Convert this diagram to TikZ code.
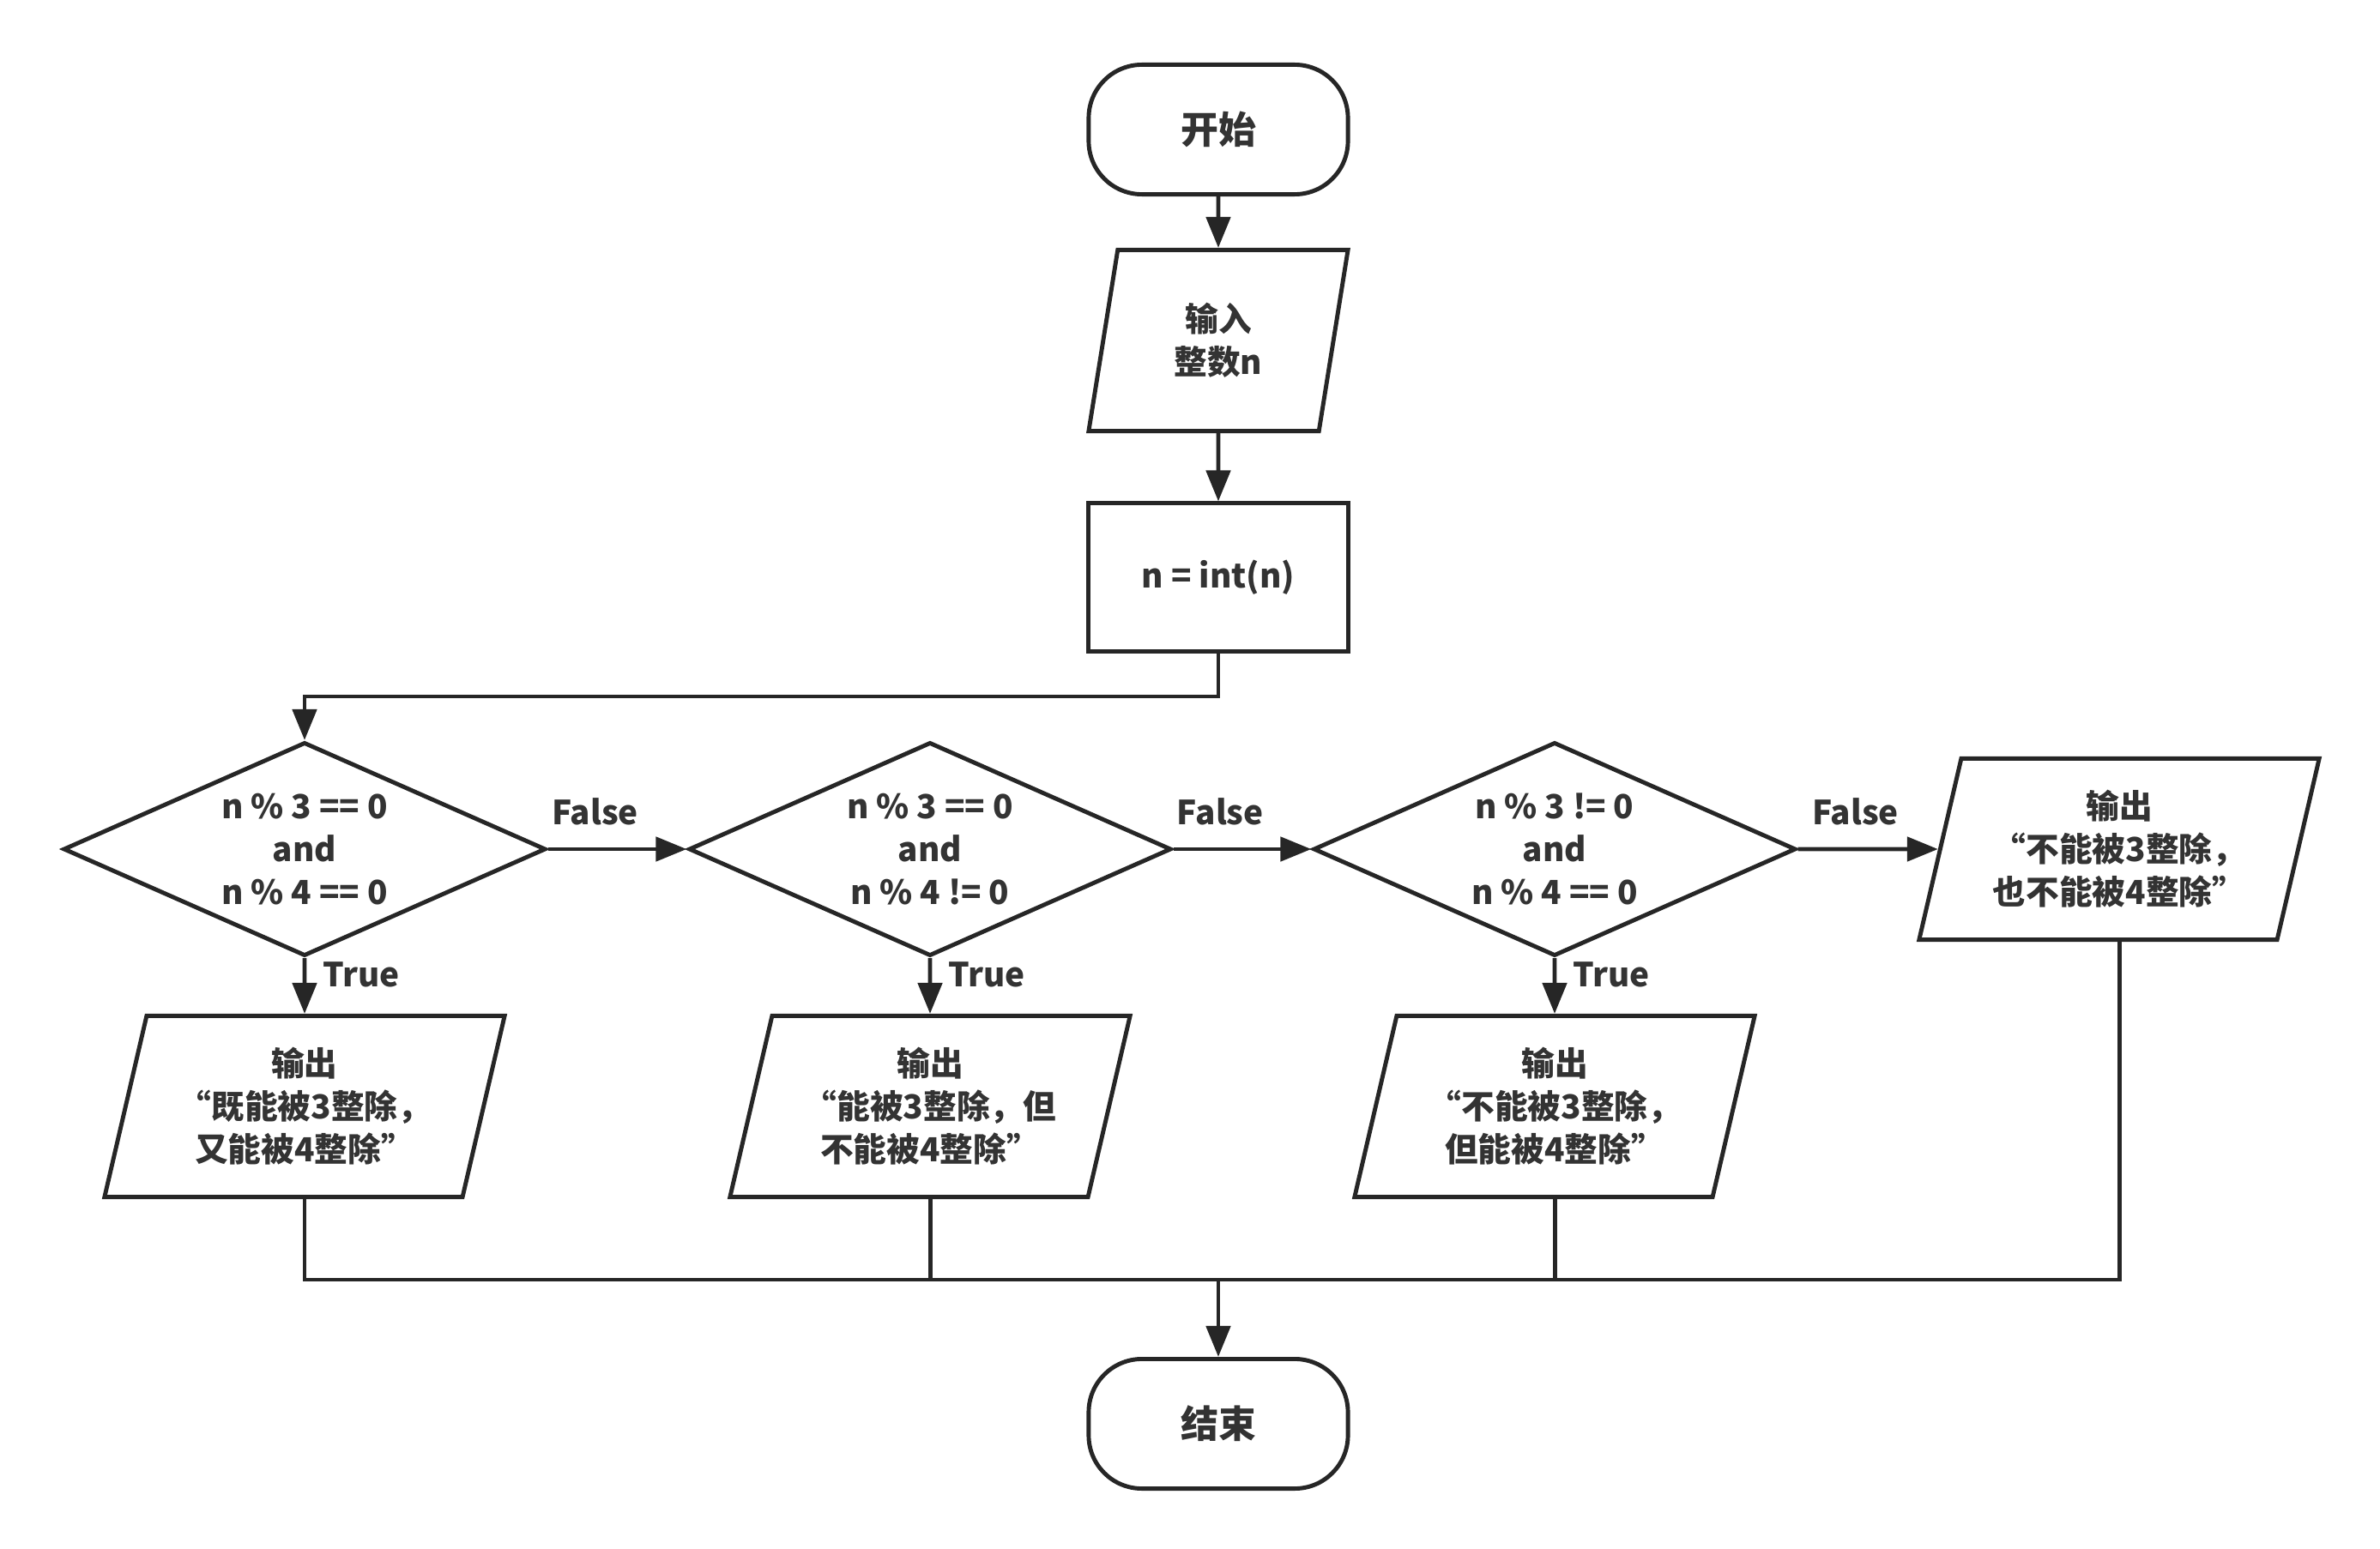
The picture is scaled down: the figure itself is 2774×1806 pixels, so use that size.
\documentclass[tikz,border=0pt]{standalone}
\usepackage{fontspec}
\setmainfont{Noto Sans CJK SC}
\usetikzlibrary{shapes.geometric,arrows.meta}
\definecolor{linegray}{HTML}{262626}
\definecolor{textgray}{HTML}{333333}
\tikzstyle{every node}=[font=\bfseries\fontsize{11pt}{14.2pt}\selectfont, text=textgray, align=center]
\tikzstyle{terminal}=[draw, rectangle, rounded corners=0.62cm, minimum width=3.02cm, minimum height=1.51cm, font=\bfseries\fontsize{12.5pt}{15pt}\selectfont]
\tikzstyle{io}=[draw, trapezium, trapezium left angle=73, trapezium right angle=107, trapezium stretches body, minimum height=2.11cm]
\tikzstyle{process}=[draw, rectangle, minimum width=3.02cm, minimum height=1.72cm]
\tikzstyle{decision}=[draw, diamond, aspect=2.25, inner sep=0pt, minimum width=5.62cm, minimum height=2.49cm]
\tikzstyle{flow}=[-{Triangle[length=3.6mm,width=2.8mm]}]

\begin{document}
\begin{tikzpicture}[x=0.01cm, y=-0.01cm, line width=1.4pt, color=linegray]
    \useasboundingbox (0,0) rectangle (2774,1806);
% Main column
    \node[terminal] (start) at (1420,151) {开始};
    \node[io, minimum width=3.02cm] (input) at (1420,397) {输入\\整数n};
    \node[process] (convert) at (1420,673) {n = int(n)};
    \coordinate (split) at (1420,812);
% Tests
    \node[decision] (test1) at (355,990) {n \% 3 == 0\\and\\n \% 4 == 0};
    \node[decision] (test2) at (1084,990) {n \% 3 == 0\\and\\n \% 4 != 0};
    \node[decision] (test3) at (1812,990) {n \% 3 != 0\\and\\n \% 4 == 0};
% Outputs
    \node[io, minimum width=4.66cm] (out1) at (355,1290) {输出\\“既能被3整除，\\又能被4整除”};
    \node[io, minimum width=4.66cm] (out2) at (1084,1290) {输出\\“能被3整除，但\\不能被4整除”};
    \node[io, minimum width=4.66cm] (out3) at (1812,1290) {输出\\“不能被3整除，\\但能被4整除”};
    \node[io, minimum width=4.66cm] (out4) at (2470,990) {输出\\“不能被3整除，\\也不能被4整除”};
    \coordinate (merge) at (1420,1492);
    \node[terminal] (stop) at (1420,1660) {结束};
% Flow
    \draw[flow] (start) -- (input);
    \draw[flow] (input) -- (convert);
    \draw[flow] (convert) -- (split) -| (test1);
    \draw[flow] (test1) -- node[above=4pt, pos=0.34] {False} (test2);
    \draw[flow] (test2) -- node[above=4pt, pos=0.34] {False} (test3);
    \draw[flow] (test3) -- node[above=4pt, pos=0.41] {False} (out4);
    \draw[flow] (test1) -- node[right=2pt, pos=0.3] {True} (out1);
    \draw[flow] (test2) -- node[right=2pt, pos=0.3] {True} (out2);
    \draw[flow] (test3) -- node[right=2pt, pos=0.3] {True} (out3);
% Merge
    \draw (out1) |- (merge);
    \draw (out2) |- (merge);
    \draw (out3) |- (merge);
    \draw (out4) |- (merge);
    \draw[flow] (merge) -- (stop);
\end{tikzpicture}
\end{document}
